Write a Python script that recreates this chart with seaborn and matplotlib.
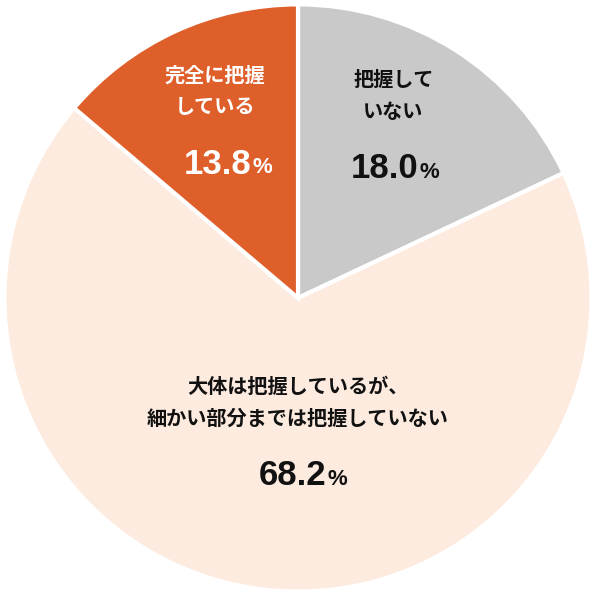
import matplotlib.pyplot as plt
import seaborn as sns

sns.set_theme(style="white")
plt.rcParams['font.family'] = ['Noto Sans CJK JP', 'DejaVu Sans']

labels = ["把握して\nいない", "大体は把握しているが、\n細かい部分までは把握していない", "完全に把握\nしている"]
values = [18.0, 68.2, 13.8]
colors = ["#C9C9C9", "#FDEBDF", "#DF5F2A"]
text_colors = ["#111111", "#111111", "#FFFFFF"]

fig = plt.figure(figsize=(5.96, 5.96), dpi=100)
ax = fig.add_axes([0, 0, 1, 1])
ax.pie(values, colors=colors, startangle=90, counterclock=False, radius=1.0,
       wedgeprops=dict(edgecolor="white", linewidth=3))
ax.set_xlim(-1.015, 1.015)
ax.set_ylim(-1.015, 1.015)
ax.set_aspect("equal")
ax.axis("off")

# label centre (x, y), number right edge x, number y
label_pos = [(0.325, 0.69), (0.0, -0.355), (-0.284, 0.705)]
num_pos = [(0.41, 0.44), (0.095, -0.606), (-0.16, 0.455)]

for lab, v, tc, (lx, ly), (nx, ny) in zip(labels, values, text_colors, label_pos, num_pos):
    ax.text(lx, ly, lab, ha="center", va="center", fontsize=14.5,
            fontweight="bold", color=tc, linespacing=1.6)
    ax.text(nx, ny, f"{v:.1f}", ha="right", va="center", fontsize=25,
            fontweight="bold", color=tc, family="Liberation Sans")
    ax.text(nx + 0.005, ny - 0.012, "%", ha="left", va="center", fontsize=16,
            fontweight="bold", color=tc, family="Liberation Sans")

fig.savefig("out.png", dpi=100)
